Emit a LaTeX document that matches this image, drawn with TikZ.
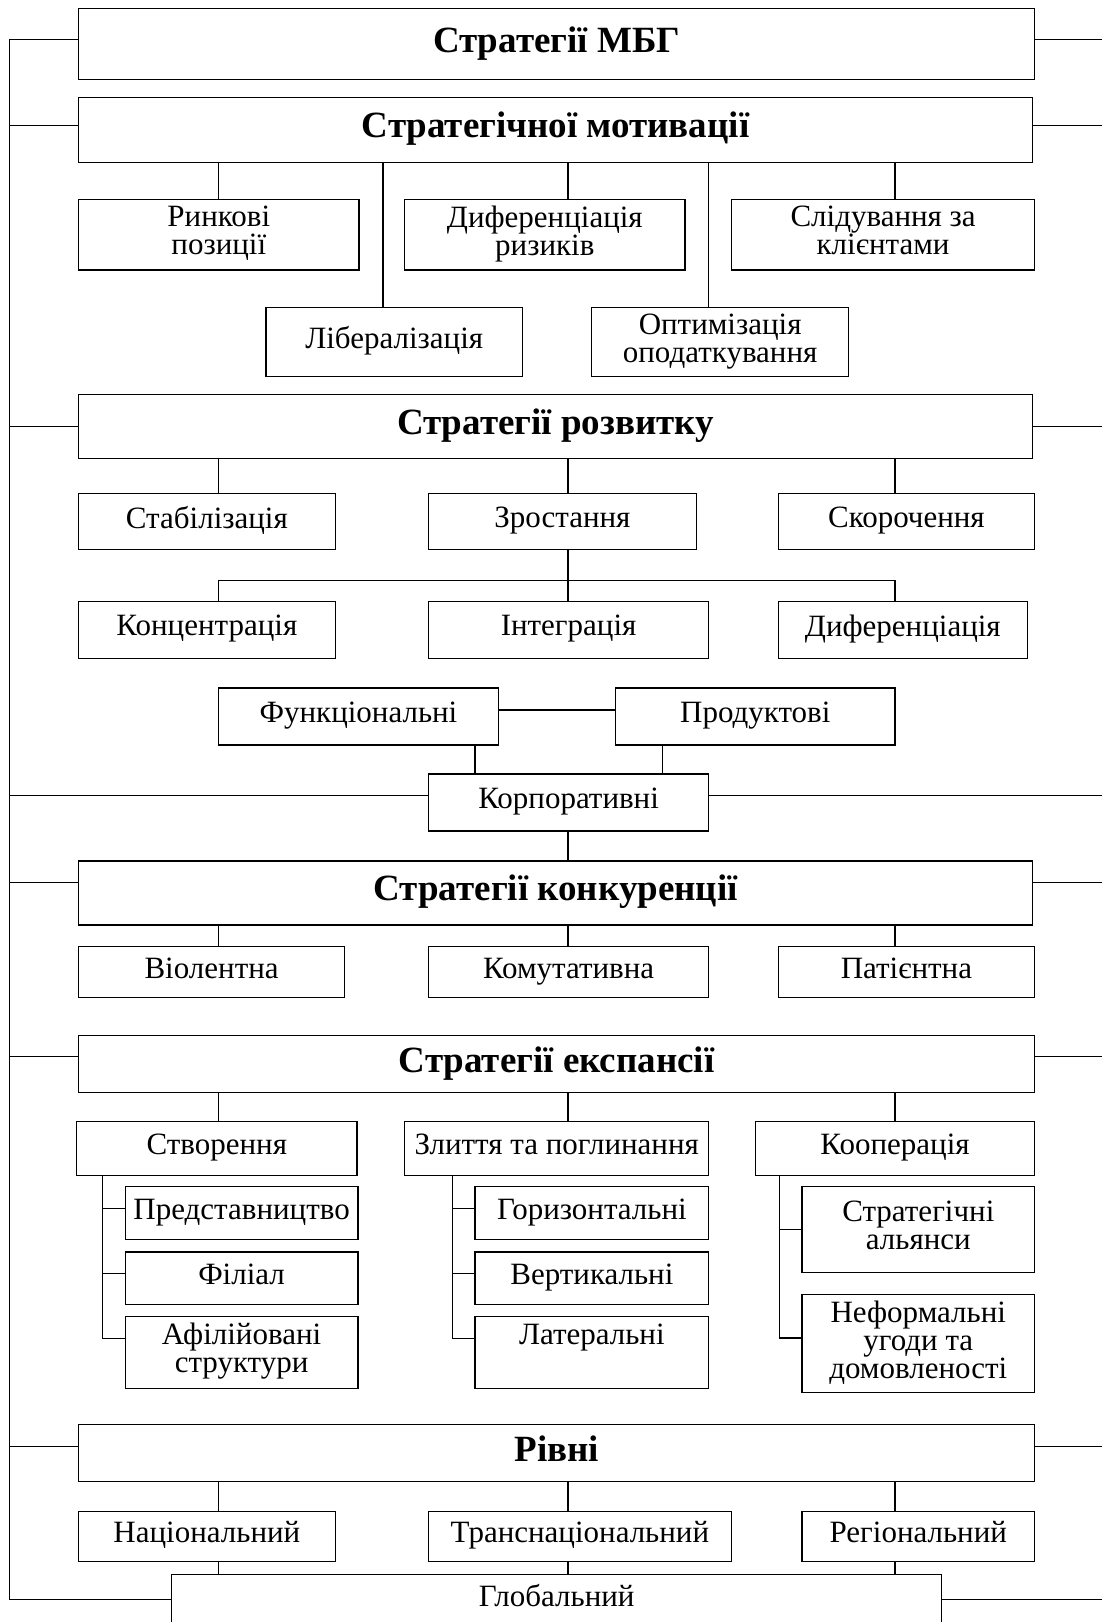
\documentclass[tikz,border=0pt]{standalone}
\usepackage{fontspec}
\setmainfont{Liberation Serif}

\tikzset{
	box/.style={draw, align=center, inner sep=0pt, font=\fontsize{15.5}{14}\selectfont,
		execute at begin node=\strut, execute at end node=\strut},
	head/.style={box, font=\bfseries\fontsize{18.5}{20}\selectfont}
}
% box from its corners: [style]{name}{x1}{y1}{x2}{y2}{text}
\newcommand\bx[7][box]{\node[#1, minimum width={(#5-#3)*0.5pt}, minimum height={(#6-#4)*0.5pt}] (#2) at ({(#3+#5)/2},{(#4+#6)/2}) {#7};}

\begin{document}
\begin{tikzpicture}[x=0.5pt, y=-0.5pt, line width=0.6pt]
	\useasboundingbox (0,0) rectangle (1102,1622);
	\coordinate (bus) at (9.3,0);
	\coordinate (edge) at (1102,0);
	\coordinate (colA) at (218.3,0);
	\coordinate (colB) at (568,0);
	\coordinate (colC) at (895,0);
	\coordinate (colL) at (383,0);
	\coordinate (colO) at (708.8,0);
	\coordinate (colF) at (475,0);
	\coordinate (colP) at (662.2,0);
	\coordinate (brS) at (102.4,0);
	\coordinate (brM) at (452.2,0);
	\coordinate (brK) at (779.1,0);
	\coordinate (brZ) at (568,580.5);

	% headers
	\bx[head]{mbg}{78.6}{8.3}{1034.7}{79.7}{Стратегії МБГ}
	\bx[head]{motiv}{78.6}{97.3}{1032.6}{162.4}{Стратегічної мотивації}
	\bx[head]{rozv}{78.6}{394.2}{1032.6}{458.4}{Стратегії розвитку}
	\bx[head]{konk}{78.6}{860.9}{1032.6}{925}{Стратегії конкуренції}
	\bx[head]{eksp}{78.6}{1035.7}{1034.7}{1092.6}{Стратегії експансії}
	\bx[head]{rivni}{78.6}{1424.8}{1034.7}{1481.7}{Рівні}

	% motivation
	\bx{rynk}{78.6}{199.7}{359}{270}{Ринкові\\позиції}
	\bx{dyfr}{404.6}{199.7}{685}{270}{Диференціація\\ризиків}
	\bx{slid}{731.5}{199.7}{1034.7}{270}{Слідування за\\клієнтами}
	\bx{lib}{266}{307.3}{522.5}{376.6}{Лібералізація}
	\bx{opt}{591.8}{307.3}{848.5}{376.6}{Оптимізація\\оподаткування}

	% development
	\bx{stab}{78.6}{493.6}{335.2}{549.4}{Стабілізація}
	\bx{zros}{428.4}{493.6}{696.4}{549.4}{Зростання}
	\bx{skor}{778.1}{493.6}{1034.7}{549.4}{Скорочення}
	\bx{konc}{78.6}{601.2}{335.2}{658.1}{Концентрація}
	\bx{integ}{428.4}{601.2}{708.8}{658.1}{Інтеграція}
	\bx{dyfer}{778.1}{601.2}{1027.5}{658.1}{Диференціація}
	\bx{func}{218.3}{688}{498.7}{745}{Функціональні}
	\bx{prod}{615.6}{688}{895}{745}{Продуктові}
	\bx{korp}{428.4}{774}{708.8}{830.9}{Корпоративні}

	% competition
	\bx{viol}{78.6}{946.8}{344.6}{997.5}{Віолентна}
	\bx{komut}{428.4}{946.8}{708.8}{997.5}{Комутативна}
	\bx{pat}{778.1}{946.8}{1034.7}{997.5}{Патієнтна}

	% expansion
	\bx{stv}{76.6}{1121.6}{357}{1175.4}{Створення}
	\bx{zlyt}{404.6}{1121.6}{708.8}{1175.4}{Злиття та поглинання}
	\bx{koop}{755.3}{1121.6}{1034.7}{1175.4}{Кооперація}
	\bx{pred}{125.2}{1186.8}{358}{1239.6}{Представництво}
	\bx{fil}{125.2}{1252}{358}{1304.8}{Філіал}
	\bx{afil}{125.2}{1316.1}{358}{1388.6}{Афілійовані\\структури}
	\bx{hor}{475}{1186.8}{708.8}{1239.6}{Горизонтальні}
	\bx{vert}{475}{1252}{708.8}{1304.8}{Вертикальні}
	\bx{lat}{475}{1316.1}{708.8}{1388.6}{Латеральні\\~}
	\bx{alian}{801.9}{1186.8}{1034.7}{1272.7}{Стратегічні\\альянси}
	\bx{neform}{801.9}{1294.4}{1034.7}{1392.7}{Неформальні\\угоди та\\домовленості}

	% levels
	\bx{nac}{78.6}{1511.7}{335.2}{1561.4}{Національний}
	\bx{trans}{428.4}{1511.7}{731.5}{1561.4}{Транснаціональний}
	\bx{reg}{801.9}{1511.7}{1034.7}{1561.4}{Регіональний}
	\bx{glob}{171.8}{1574.8}{941.6}{1624}{Глобальний}

	% left bus and the stubs on both sides
	\draw ([yshift=2.35pt]mbg.west -| bus) -- (glob.west -| bus);
	\foreach \n/\s in {mbg/2.35, motiv/2.3, rozv/0, korp/3.4, konk/5.2, eksp/3.9, rivni/3.4, glob/0}{
		\draw ([yshift=\s pt]\n.west -| bus) -- ([yshift=\s pt]\n.west);
		\draw ([yshift=\s pt]\n.east) -- ([yshift=\s pt]\n.east -| edge);
	}

	% vertical links
	\foreach \p/\c/\k in {motiv/rynk/colA, motiv/dyfr/colB, motiv/slid/colC, motiv/lib/colL, motiv/opt/colO,
			rozv/stab/colA, rozv/zros/colB, rozv/skor/colC, zros/integ/colB,
			func/korp/colF, prod/korp/colP, korp/konk/colB,
			konk/viol/colA, konk/komut/colB, konk/pat/colC,
			eksp/stv/colA, eksp/zlyt/colB, eksp/koop/colC,
			rivni/nac/colA, rivni/trans/colB, rivni/reg/colC,
			nac/glob/colA, trans/glob/colB, reg/glob/colC}
		\draw (\p.south -| \k) -- (\c.north -| \k);
	\draw (konc.north -| colA) |- (brZ) -| (dyfer.north -| colC);
	\draw ([yshift=3.3pt]func.east) -- ([yshift=3.3pt]prod.west);

	% brackets under expansion
	\draw (stv.south -| brS) -- ([yshift=7pt]afil.west -| brS);
	\foreach \c/\s in {pred/2.2, fil/2.3, afil/7}
		\draw ([yshift=\s pt]\c.west -| brS) -- ([yshift=\s pt]\c.west);
	\draw (zlyt.south -| brM) -- ([yshift=7pt]lat.west -| brM);
	\foreach \c/\s in {hor/2.2, vert/2.3, lat/7}
		\draw ([yshift=\s pt]\c.west -| brM) -- ([yshift=\s pt]\c.west);
	\draw (koop.south -| brK) -- ([yshift=2.8pt]neform.west -| brK);
	\foreach \c/\s in {alian/0, neform/2.8}
		\draw ([yshift=\s pt]\c.west -| brK) -- ([yshift=\s pt]\c.west);
\end{tikzpicture}
\end{document}
